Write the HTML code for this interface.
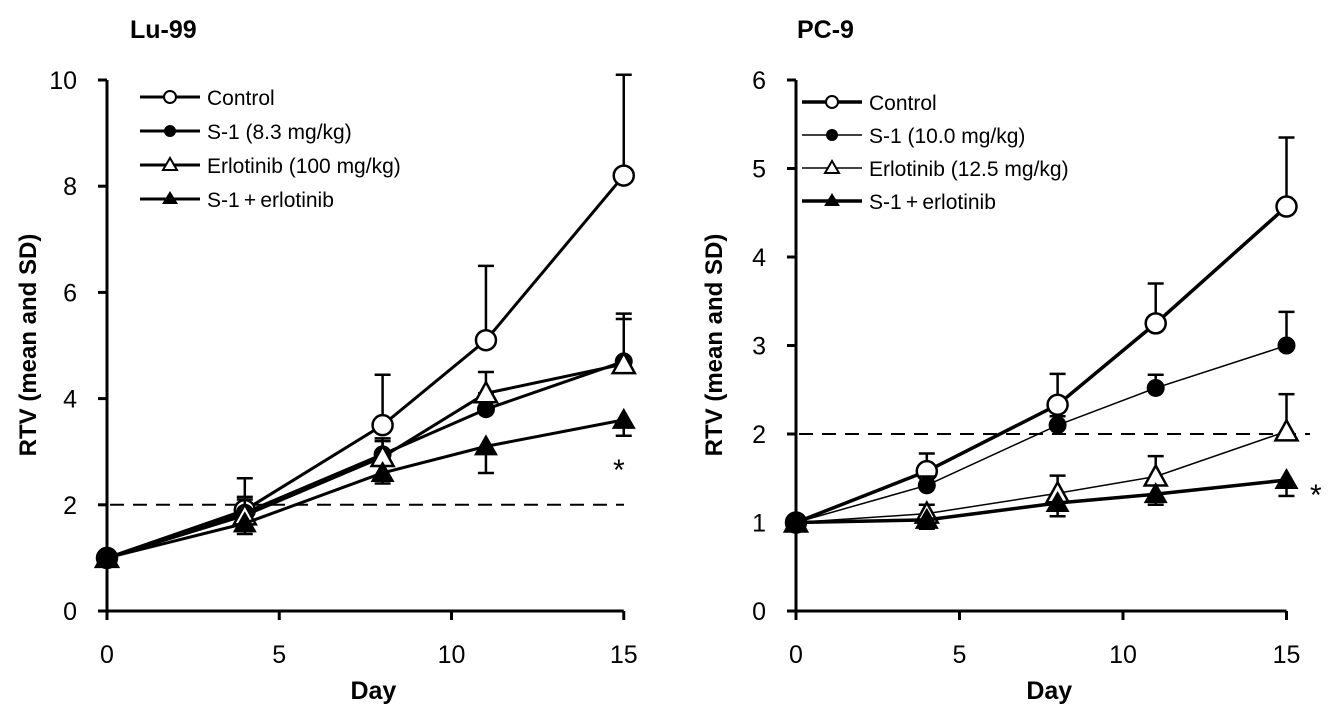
<!DOCTYPE html>
<html><head><meta charset="utf-8"><style>
body{margin:0;background:#fff}
svg{display:block;font-family:"Liberation Sans",Arial,sans-serif}
</style></head><body>
<svg id="c" width="1336" height="710"></svg>
<script>
const days=[0,4,8,11,15];
const luControl=[1,1.9,3.5,5.1,8.2], luControlErr=[0,0.6,0.95,1.4,1.9];
const luS1=[1,1.85,2.95,3.8,4.7], luS1Err=[0,0.3,0.3,0.3,0.9];
const luErl=[1,1.8,2.9,4.1,4.65], luErlErr=[0,0.3,0.3,0.4,0.85];
const luCombo=[1,1.65,2.6,3.1,3.6], luComboErr=[0,0.2,0.2,0.5,0.3];
const pcControl=[1,1.58,2.33,3.25,4.57], pcControlErr=[0,0.2,0.35,0.45,0.78];
const pcS1=[1,1.42,2.1,2.52,3.0], pcS1Err=[0,0.1,0.1,0.15,0.38];
const pcErl=[1,1.1,1.33,1.52,2.03], pcErlErr=[0,0.1,0.2,0.23,0.42];
const pcCombo=[1,1.03,1.22,1.32,1.48], pcComboErr=[0,0.1,0.15,0.12,0.18];
const xTicks=[0,5,10,15];
const luYTicks=[0,2,4,6,8,10], pcYTicks=[0,1,2,3,4,5,6];
const luLegend=["Control","S-1 (8.3 mg/kg)","Erlotinib (100 mg/kg)","S-1\u2009+\u2009erlotinib"];
const pcLegend=["Control","S-1 (10.0 mg/kg)","Erlotinib (12.5 mg/kg)","S-1\u2009+\u2009erlotinib"];

const svg=document.getElementById('c');
const NS='http://www.w3.org/2000/svg';
function mk(tag,attrs,parent,txt){const e=document.createElementNS(NS,tag);for(const k in attrs)e.setAttribute(k,attrs[k]);if(txt!==undefined)e.textContent=txt;(parent||svg).appendChild(e);return e;}

function marker(g,type,x,y){
  if(type==='oc')mk('circle',{cx:x,cy:y,r:10,fill:'#fff',stroke:'#000','stroke-width':2.5},g);
  if(type==='fc')mk('circle',{cx:x,cy:y,r:9,fill:'#000'},g);
  if(type==='ot')mk('polygon',{points:`${x},${y-11} ${x-11},${y+9} ${x+11},${y+9}`,fill:'#fff',stroke:'#000','stroke-width':2.5},g);
  if(type==='ft')mk('polygon',{points:`${x},${y-12} ${x-12},${y+9} ${x+12},${y+9}`,fill:'#000'},g);
}

function panel(o){
  const X=d=>o.x0+d*o.dx, Y=v=>o.y0-v*o.dy;
  const g=mk('g',{});
  
  
  const t=mk('text',{x:o.titleX,y:38,'font-size':25,'font-weight':'bold'},g,o.title);
  
  // axes
  mk('line',{x1:o.x0,y1:Y(o.yTicks[o.yTicks.length-1]),x2:o.x0,y2:o.y0,stroke:'#000','stroke-width':3},g);
  mk('line',{x1:o.x0,y1:o.y0,x2:X(15),y2:o.y0,stroke:'#000','stroke-width':3},g);
  o.yTicks.forEach(v=>{
    mk('line',{x1:o.x0-9,y1:Y(v),x2:o.x0,y2:Y(v),stroke:'#000','stroke-width':3},g);
    const l=mk('text',{x:o.x0-30,y:Y(v)+9,'font-size':25,'text-anchor':'end'},g,v);
    
  });
  xTicks.forEach(d=>{
    mk('line',{x1:X(d),y1:o.y0,x2:X(d),y2:o.y0+9,stroke:'#000','stroke-width':3},g);
    const l=mk('text',{x:X(d),y:o.y0+52,'font-size':25,'text-anchor':'middle'},g,d);
    
  });
  const xl=mk('text',{x:X(7.5)+8,y:699,'font-size':25,'font-weight':'bold','text-anchor':'middle'},g,'Day');
  
  const yl=mk('text',{x:0,y:0,'font-size':24,'font-weight':'bold','text-anchor':'middle',transform:`translate(${o.yTitleX},345) rotate(-90)`},g,'RTV (mean and SD)');
  
  // reference dashed line
  const dl=mk('line',{x1:o.x0+3,y1:Y(2),x2:o.dashEnd,y2:Y(2),stroke:'#000','stroke-width':2,'stroke-dasharray':'14,9'},g);
  
  // series
  o.series.forEach(s=>{
    const sg=mk('g',{},g);
    
    days.forEach((d,i)=>{ if(s.err[i]>0){
      const y2=s.down?Y(s.vals[i]-s.err[i]):Y(s.vals[i]+s.err[i]);
      mk('line',{x1:X(d),y1:Y(s.vals[i]),x2:X(d),y2:y2,stroke:'#000','stroke-width':2.5},sg);
      mk('line',{x1:X(d)-8,y1:y2,x2:X(d)+8,y2:y2,stroke:'#000','stroke-width':2.5},sg);
    }});
    mk('polyline',{points:days.map((d,i)=>X(d)+','+Y(s.vals[i])).join(' '),fill:'none',stroke:'#000','stroke-width':s.w},sg);
    days.forEach((d,i)=>marker(sg,s.m,X(d),Y(s.vals[i])));
  });
  // legend
  o.series.forEach((s,i)=>{
    const lg=mk('g',{},g);
    
    const y=o.legY+i*o.legStep;
    mk('line',{x1:o.legX,y1:y,x2:o.legX+60,y2:y,stroke:'#000','stroke-width':s.w},lg);
    const sm={oc:'oc',fc:'fc',ot:'ot',ft:'ft'}[s.m];
    if(sm==='oc')mk('circle',{cx:o.legX+30,cy:y,r:6,fill:'#fff',stroke:'#000','stroke-width':2},lg);
    if(sm==='fc')mk('circle',{cx:o.legX+30,cy:y,r:6,fill:'#000'},lg);
    if(sm==='ot')mk('polygon',{points:`${o.legX+30},${y-7} ${o.legX+23},${y+5} ${o.legX+37},${y+5}`,fill:'#fff',stroke:'#000','stroke-width':2},lg);
    if(sm==='ft')mk('polygon',{points:`${o.legX+30},${y-8} ${o.legX+22},${y+5} ${o.legX+38},${y+5}`,fill:'#000'},lg);
    mk('text',{x:o.legX+67,y:y+8,'font-size':21},lg,o.legend[i]);
  });
  const a=mk('text',{x:o.astX,y:o.astY,'font-size':30},g,'*');
  
}

panel({name:'lu99-panel',title:'Lu-99',titleX:130,x0:107,dx:34.45,y0:611,dy:53.1,yTicks:luYTicks,yTitleX:36,dashEnd:624,
  legX:140,legY:97,legStep:34,legend:luLegend,astX:613,astY:480,
  series:[{name:'series-control',vals:luControl,err:luControlErr,m:'oc',w:3},
          {name:'series-s1',vals:luS1,err:luS1Err,m:'fc',w:3},
          {name:'series-erlotinib',vals:luErl,err:luErlErr,m:'ot',w:3},
          {name:'series-combination',vals:luCombo,err:luComboErr,m:'ft',w:3,down:true}]});
panel({name:'pc9-panel',title:'PC-9',titleX:797,x0:796,dx:32.7,y0:611,dy:88.5,yTicks:pcYTicks,yTitleX:722,dashEnd:1310,
  legX:802,legY:102,legStep:33,legend:pcLegend,astX:1310,astY:505,
  series:[{name:'series-control',vals:pcControl,err:pcControlErr,m:'oc',w:3.5},
          {name:'series-s1',vals:pcS1,err:pcS1Err,m:'fc',w:1.5},
          {name:'series-erlotinib',vals:pcErl,err:pcErlErr,m:'ot',w:1.5},
          {name:'series-combination',vals:pcCombo,err:pcComboErr,m:'ft',w:3.5,down:true}]});
</script>
</body></html>
